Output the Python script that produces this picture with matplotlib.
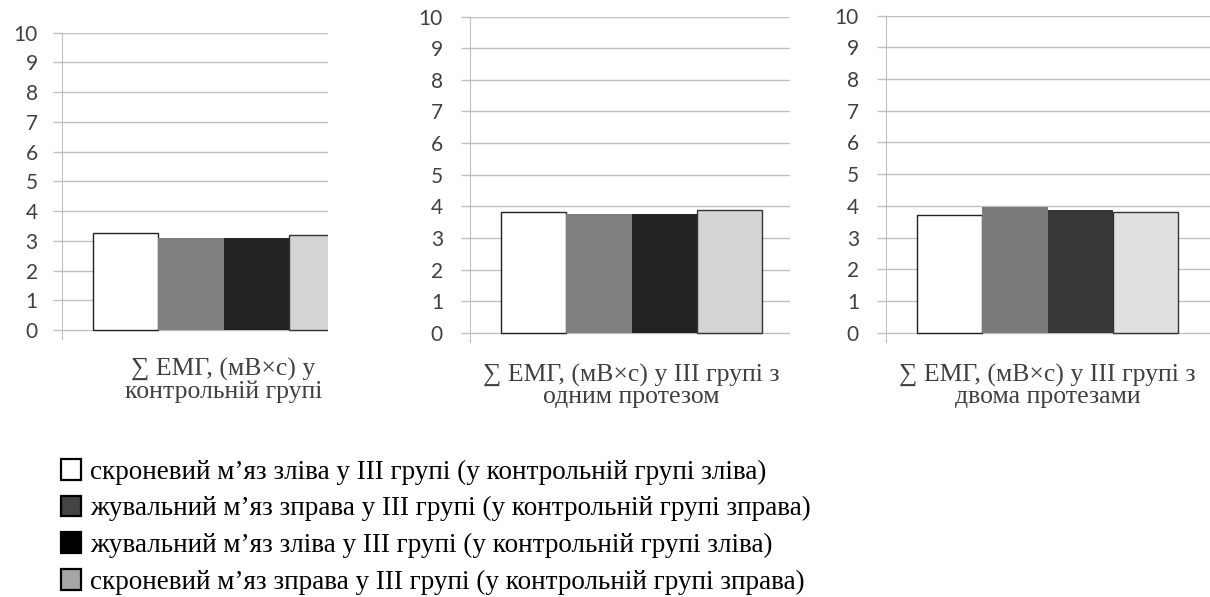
import matplotlib.pyplot as plt
from matplotlib.patches import Patch

W, H = 1210, 597

# groups (one small chart each)
groups = [
    "∑ ЕМГ, (мВ×с) у\nконтрольній групі",
    "∑ ЕМГ, (мВ×с) у ІІІ групі з\nодним протезом",
    "∑ ЕМГ, (мВ×с) у ІІІ групі з\nдвома протезами",
]

# series
series = [
    "скроневий м’яз зліва у ІІІ групі (у контрольній групі зліва)",
    "жувальний м’яз зправа у ІІІ групі (у контрольній групі зправа)",
    "жувальний м’яз зліва у ІІІ групі (у контрольній групі зліва)",
    "скроневий м’яз зправа у ІІІ групі (у контрольній групі зправа)",
]

# values per series, one per group
temporal_left = [3.26, 3.81, 3.71]
masseter_right = [3.11, 3.77, 3.97]
masseter_left = [3.11, 3.77, 3.88]
temporal_right = [3.21, 3.88, 3.81]
values = [temporal_left, masseter_right, masseter_left, temporal_right]

yticks = list(range(0, 11))

bar_colors = [
    ["white", "#808080", "#222222", "#d4d4d4"],
    ["white", "#808080", "#222222", "#d4d4d4"],
    ["white", "#7a7a7a", "#383838", "#e0e0e0"],
]
edge_colors = ["#222222", "none", "none", "#333333"]
legend_colors = ["white", "#444444", "black", "#a6a6a6"]

# pixel layout of each panel: left, right, y of 10, y of 0
panels = [
    (62, 328, 32.7, 330.0),
    (470, 790, 16.7, 332.7),
    (886, 1210, 15.7, 332.7),
]
ymin = -0.3

fig = plt.figure(figsize=(W / 100, H / 100), dpi=100)

for g, (left, right, ytop, yzero) in enumerate(panels):
    unit = (yzero - ytop) / 10
    ybot = yzero - ymin * unit
    ax = fig.add_axes([left / W, 1 - ybot / H, (right - left) / W, (ybot - ytop) / H])
    px = 65.3  # pixels per bar
    x_left = -0.5 - 31 / px
    x_right = -0.5 + (right - (left + 31)) / px
    for i in range(len(series)):
        ax.bar(i, values[i][g], width=1.0, color=bar_colors[g][i],
               edgecolor=edge_colors[i], linewidth=1.0, zorder=3)
    ax.set_xlim(x_left, x_right)
    ax.set_ylim(ymin, 10)
    ax.set_yticks(yticks)
    ax.set_xticks([])
    ax.grid(axis="y", color="#c0c0c0", linewidth=1.0, zorder=0)
    for s in ["top", "right", "bottom"]:
        ax.spines[s].set_visible(False)
    ax.spines["left"].set_color("#c0c0c0")
    ax.spines["left"].set_bounds(ymin, 10)
    ax.tick_params(axis="y", length=6.5, width=1.0, color="#c0c0c0",
                   pad=11 if g == 0 else 13, labelsize=15, labelcolor="#404040")
    for t in ax.get_yticklabels():
        t.set_family("Lato")
    # category label under the group
    cx = left + 31 + 2 * px
    top = 358 if g == 0 else 364
    fig.text(cx / W, 1 - top / H, groups[g], ha="center", va="top",
             fontsize=18.5, family="Liberation Serif", color="#404040",
             linespacing=0.95)

handles = [Patch(facecolor=c, edgecolor="black", linewidth=1.6) for c in legend_colors]
fig.legend(handles, series, loc="upper left", bbox_to_anchor=(61 / W, 1 - 459 / H),
           frameon=False, prop={"family": "Liberation Serif", "size": 19.5},
           handlelength=0.74, handleheight=0.8, handletextpad=0.33,
           labelspacing=0.4, borderpad=0, borderaxespad=0)

fig.savefig("out.png", dpi=100)
